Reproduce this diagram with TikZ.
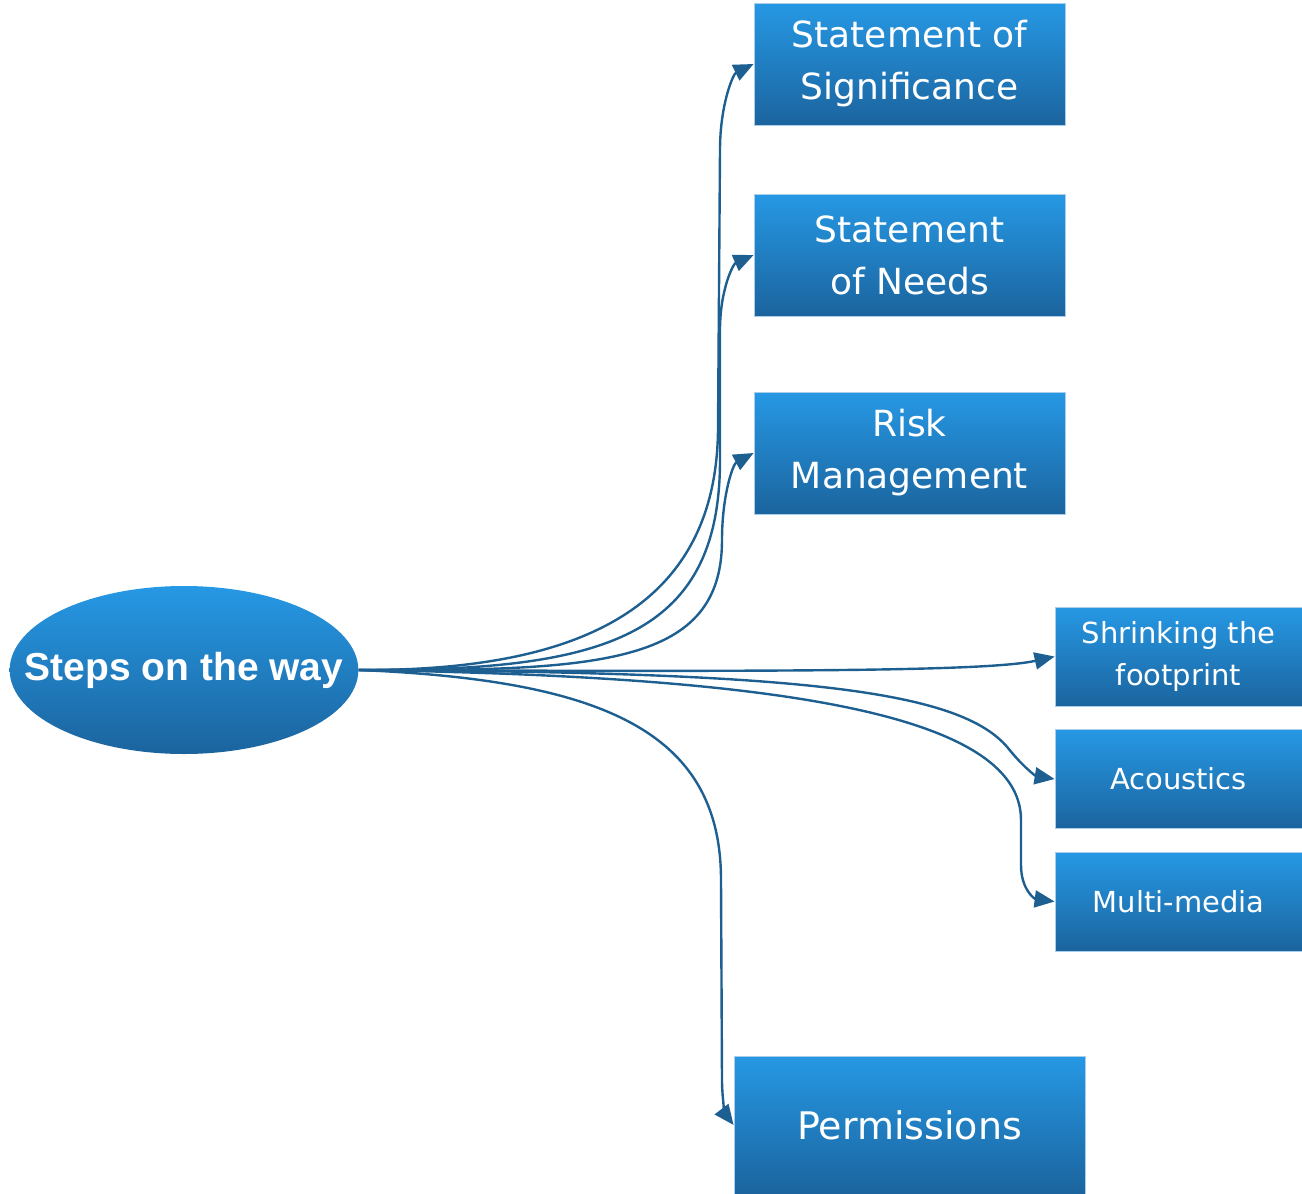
\documentclass[tikz,border=0pt]{standalone}
\usepackage{fontspec}
\setmainfont{DejaVu Sans}
\newfontfamily\rootfont{Liberation Sans}
\usetikzlibrary{arrows.meta,shapes.geometric}

\definecolor{boxtop}{RGB}{38,152,228}
\definecolor{boxbottom}{RGB}{27,100,158}
\definecolor{boxedge}{RGB}{170,205,235}
\definecolor{linkblue}{RGB}{30,95,145}

\tikzset{
  stepbox/.style={rectangle, shading=axis, top color=boxtop, bottom color=boxbottom,
    draw=boxedge, line width=0.4pt, text=white, align=center, inner sep=0pt,
    minimum width=155.5pt, minimum height=61pt, font=\fontsize{18}{26}\selectfont},
  smallbox/.style={stepbox, minimum width=123.5pt, minimum height=49.5pt,
    font=\fontsize{14.5}{21}\selectfont},
  rootnode/.style={ellipse, shading=axis, top color=boxtop, bottom color=boxbottom,
    text=white, inner xsep=-18pt, inner ysep=0pt, minimum width=174pt, minimum height=84pt,
    font=\rootfont\bfseries\fontsize{19.5}{22}\selectfont},
  link/.style={draw=linkblue, line width=1.2pt, -{Triangle[length=10pt,width=8.5pt]}}
}

\begin{document}
\begin{tikzpicture}[x=0.5pt,y=0.5pt,yscale=-1]
    \useasboundingbox (0,0) rectangle (1302,1194);

    % Root
    \node [rootnode] (root) at (184,670) {Steps on the way};

    % Boxes
    \node [stepbox] (signif) at (909.5,64) {Statement of\\Significance};
    \node [stepbox] (needs) at (909.5,255) {Statement\\of Needs};
    \node [stepbox] (risk) at (909.5,453) {Risk\\Management};
    \node [smallbox] (shrink) at (1178.5,656.5) {Shrinking the\\footprint};
    \node [smallbox] (acoustics) at (1178.5,779) {Acoustics};
    \node [smallbox] (multimedia) at (1178.5,901.5) {Multi-media};
    \node [stepbox, minimum width=175.5pt, minimum height=69pt, font=\fontsize{19}{26}\selectfont] (permits) at (909.5,1125) {Permissions};

    % Curved Lines up
    \draw [link] (root.east) .. controls (560,671) and (716,620) .. (718,430) -- (720,150) .. controls (720,105) and (733,74) .. (signif.west);
    \draw [link] (root.east) .. controls (600,671) and (720,640) .. (720,460) -- (720,330) .. controls (720,290) and (733,264) .. (needs.west);
    \draw [link] (root.east) .. controls (600,671) and (722,665) .. (722,540) .. controls (722,495) and (733,464) .. (risk.west);

    % Curved Lines right
    \draw [link] (root.east) .. controls (800,672) and (990,671) .. (shrink.west);
    \draw [link] (root.east) .. controls (800,672) and (960,690) .. (1008,748) .. controls (1024,768) and (1036,776) .. (acoustics.west);
    \draw [link] (root.east) .. controls (760,676) and (1021,710) .. (1021,820) -- (1021,865) .. controls (1021,890) and (1035,899) .. (multimedia.west);

    % Curved Line down
    \draw [link] (root.east) .. controls (600,680) and (721,730) .. (721,880) -- (722,1080) .. controls (722,1100) and (726,1115) .. (permits.west);

\end{tikzpicture}
\end{document}
